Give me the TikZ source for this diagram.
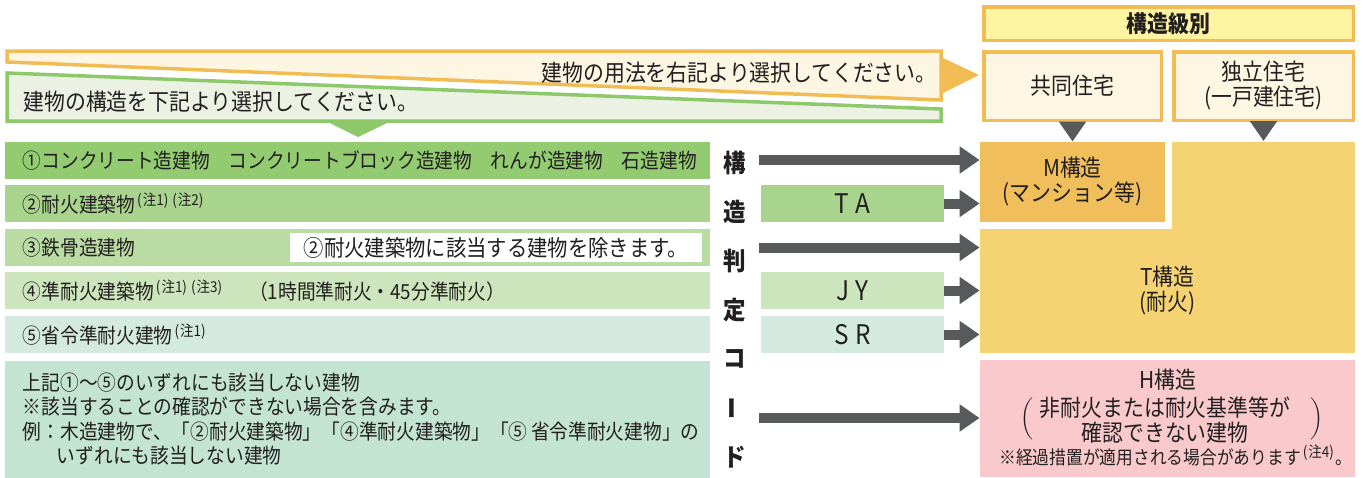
\documentclass[tikz,border=0pt]{standalone}
\usepackage{fontspec}
\setmainfont[FakeStretch=0.9]{Noto Sans CJK JP}
\usetikzlibrary{arrows.meta,shapes}

\definecolor{txt}{HTML}{231F20}
\definecolor{arrowgray}{HTML}{58595B}
\definecolor{oline}{HTML}{F2BC55}
\definecolor{ofill}{HTML}{FDF6E2}
\definecolor{headfill}{HTML}{FFF4A1}
\definecolor{gline}{HTML}{8DC86A}
\definecolor{gfill}{HTML}{EBF2E4}
\definecolor{row1}{HTML}{93CB71}
\definecolor{row2}{HTML}{A9D48D}
\definecolor{row3}{HTML}{B9DCA3}
\definecolor{row4}{HTML}{CDE5BC}
\definecolor{row5}{HTML}{D4EADE}
\definecolor{row6}{HTML}{C3E4D3}
\definecolor{mcol}{HTML}{F0BE5A}
\definecolor{tcol}{HTML}{F5D373}
\definecolor{hcol}{HTML}{F9C9CC}

\newcommand{\rowfont}{\fontsize{10.4}{12.3}\selectfont}
\newcommand{\bannerfont}{\fontsize{11.6}{12.5}\selectfont}
\newcommand{\boxfont}{\fontsize{11.6}{12.5}\selectfont}
\newcommand{\chu}[1]{\hspace{1pt}\raisebox{3.5pt}{\fontsize{7.5}{7.5}\selectfont(\hspace{0.5pt}注#1)}\hspace{1pt}}

\tikzstyle{rowbox} = [rectangle, anchor=west, inner xsep=8.75pt, inner ysep=0pt,
    text width=335pt, align=left, minimum height=18.5pt, font=\rowfont]
\tikzstyle{codebox} = [rectangle, inner sep=0pt, minimum width=91.5pt,
    minimum height=18.5pt, font=\fontsize{13.5}{13.5}\selectfont]
\tikzstyle{usebox} = [rectangle, draw=oline, line width=1.75pt, fill=ofill,
    inner sep=0pt, minimum height=34.25pt, align=center, font=\boxfont]
\tikzstyle{sbox} = [rectangle, inner sep=0pt, align=center, font=\boxfont]
\tikzstyle{vchar} = [inner sep=0pt, font=\fontsize{12.5}{12.5}\selectfont\bfseries]
\tikzstyle{bigarrow} = [draw=arrowgray, line width=5pt,
    -{Triangle[length=10pt,width=13pt]}]

\begin{document}
\begin{tikzpicture}[x=0.5pt,y=-0.5pt,every node/.style={text=txt}]
  \useasboundingbox (0,0) rectangle (1363,477);

  % banners
  \draw[line width=1.75pt, draw=oline, fill=ofill]
    (7,51) -- (941,51) -- (941,100) -- (7,62) -- cycle;
  \fill[oline] (943,58) -- (979,75) -- (943,93) -- cycle;
  \draw[line width=1.75pt, draw=gline, fill=gfill]
    (7,73) -- (941,109) -- (941,121) -- (7,121) -- cycle;
  \fill[gline] (330,123) -- (387,123) -- (358,137) -- cycle;
  \node[anchor=east, inner sep=0pt, font=\bannerfont] (usage) at (937,73)
    {建物の用法を右記より選択してください。};
  \node[anchor=west, inner sep=0pt, font=\bannerfont] (kind) at (23,102)
    {建物の構造を下記より選択してください。};

  % header and use boxes
  \node[usebox, fill=headfill, minimum width=184.75pt, minimum height=16.75pt]
    (grade) at (1168.5,23.5) {\bfseries 構造級別};
  \node[usebox, minimum width=88.75pt]  (kyodo)     at (1072.5,86) {共同住宅};
  \node[usebox, minimum width=89.75pt]  (dokuritsu) at (1263.5,86) {独立住宅\\(一戸建住宅)};

  % structure classes
  \node[sbox, fill=mcol, minimum width=92.5pt, minimum height=40pt]
    (mbox) at (1072.5,182) {M構造\\(マンション等)};
  \node[sbox, fill=tcol, minimum width=91.5pt, minimum height=44pt]
    (tup) at (1263.5,185.5) {};
  \node[sbox, fill=tcol, minimum width=187.5pt, minimum height=62pt]
    (tbox) at (1167.5,291) {T構造\\(耐火)};
  \node[sbox, fill=hcol, minimum width=187.5pt, minimum height=58.5pt]
    (hbox) at (1167.5,418.5) {};
  \node[font=\boxfont] (hname) at (1168,380) {H構造};
  \node[font=\boxfont, align=center] (hdesc) at (1165,420.5)
    {非耐火または耐火基準等が\\確認できない建物};
  \node (hleft)  at (1027,419) {\scalebox{0.88}{$\bigg($}};
  \node (hright) at (1317,419) {\scalebox{0.88}{$\bigg)$}};
  \node[font=\fontsize{9.3}{10}\selectfont] (hnote) at (1176,455)
    {※経過措置が適用される場合があります\chu{4}。};

  % building rows
  \node[rowbox, fill=row1] (r1) at (5,160)
    {①コンクリート造建物　コンクリートブロック造建物　れんが造建物　石造建物};
  \node[rowbox, fill=row2] (r2) at (5,203.5) {②耐火建築物\chu{1}\chu{2}};
  \node[rowbox, fill=row3] (r3) at (5,247.5) {③鉄骨造建物};
  \node[rowbox, fill=row4] (r4) at (5,290.5)
    {④準耐火建築物\chu{1}\chu{3}\hspace{12.5pt}（1時間準耐火・45分準耐火）};
  \node[rowbox, fill=row5] (r5) at (5,334.5) {⑤省令準耐火建物\chu{1}};
  \node[rowbox, fill=row6, minimum height=58.5pt] (r6) at (5,419)
    {上記①～⑤のいずれにも該当しない建物\\
     ※該当することの確認ができない場合を含みます。\\
     \mbox{例：木造建物で、「②耐火建築物」「④準耐火建築物」「⑤\,省令準耐火建物」の}\\
     \hspace*{17pt}いずれにも該当しない建物};
  \node[rectangle, fill=white, inner sep=0pt, minimum width=206pt, minimum height=14.5pt,
    font=\fontsize{11.3}{12}\selectfont] (except) at (496,247.5)
    {②耐火建築物に該当する建物を除きます。};

  % codes
  \node[codebox, fill=row2] (ta) at (852.5,203.5) {T\hspace{3pt}A};
  \node[codebox, fill=row4] (jy) at (852.5,290.5) {J\hspace{3pt}Y};
  \node[codebox, fill=row5] (sr) at (852.5,334.5) {S\hspace{3pt}R};

  \foreach \c [count=\i] in {構,造,判,定,コ,{\rotatebox{90}{ー}},ド}
    \node[vchar] (v\i) at (735,{163+49*(\i-1)}) {\c};

  % arrows
  \coordinate (s1) at (759,160);
  \coordinate (s3) at (759,247.5);
  \coordinate (s6) at (759,418);
  \draw[bigarrow] (s1) -- (s1 -| mbox.west);
  \draw[bigarrow] (ta.east) -- (ta.east -| mbox.west);
  \draw[bigarrow] (s3) -- (s3 -| tbox.west);
  \draw[bigarrow] (jy.east) -- (jy.east -| tbox.west);
  \draw[bigarrow] (sr.east) -- (sr.east -| tbox.west);
  \draw[bigarrow] (s6) -- (s6 -| hbox.west);
  \draw[bigarrow, shorten <=2pt] (kyodo.south) -- (mbox.north);
  \draw[bigarrow, shorten <=2pt] (dokuritsu.south) -- (dokuritsu.south |- tup.north);
\end{tikzpicture}
\end{document}
